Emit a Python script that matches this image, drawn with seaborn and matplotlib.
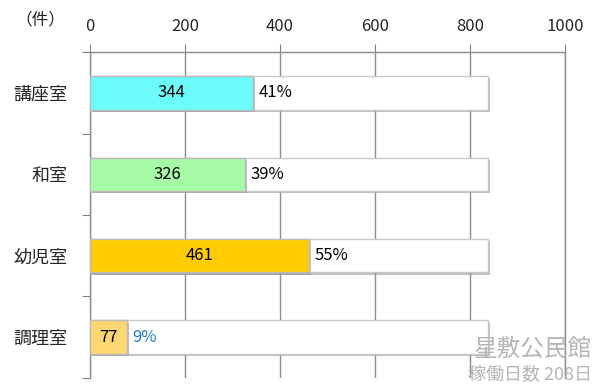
import numpy as np
import pandas as pd
import seaborn as sns
import matplotlib.pyplot as plt
import matplotlib.patheffects as pe

rooms = ['講座室', '和室', '幼児室', '調理室']
counts = [344, 326, 461, 77]
total = 838
percents = ['41%', '39%', '55%', '9%']
colors = ['#6CFBFB', '#A6FBA6', '#FFCC00', '#FFD770']
pct_colors = ['black', 'black', 'black', '#1F7AC8']
x_ticks = [0, 200, 400, 600, 800, 1000]

df = pd.DataFrame({'room': rooms, 'count': counts, 'total': [total] * len(rooms)})

sns.set_style('white')
plt.rcParams['font.family'] = ['Noto Sans CJK JP', 'DejaVu Sans']

fig = plt.figure(figsize=(5.92, 3.86), dpi=100)
ax = fig.add_axes([0.152, 0.021, 0.802, 0.844])

shadow = [pe.SimplePatchShadow(offset=(1.5, -1.5), shadow_rgbFace='#999999', alpha=0.6), pe.Normal()]

# background (total) bars
sns.barplot(data=df, y='room', x='total', orient='h', color='white', width=0.41,
            saturation=1, edgecolor='#C8C8C8', linewidth=1, ax=ax, zorder=3)
# value bars
sns.barplot(data=df, y='room', x='count', orient='h', hue='room', palette=colors,
            saturation=1, legend=False, width=0.41, edgecolor='#BBBBBB', linewidth=1,
            ax=ax, zorder=4)
for p in ax.patches:
    p.set_path_effects(shadow)

for i, (c, pc, col) in enumerate(zip(counts, percents, pct_colors)):
    ax.text(c / 2, i, str(c), ha='center', va='center', fontsize=12, color='black', zorder=6)
    ax.text(c + 12, i, pc, ha='left', va='center', fontsize=12, color=col, zorder=6)

ax.set_xlim(0, 1000)
ax.set_ylim(3.5, -0.5)
ax.set_xticks(x_ticks)
ax.xaxis.tick_top()
ax.tick_params(axis='x', which='both', top=True, length=6, color='#808080', labelsize=12, pad=6)
ax.set_yticks([-0.5, 0.5, 1.5, 2.5, 3.5], minor=False)
ax.set_yticklabels([])
ax.set_yticks(range(len(rooms)), minor=True)
ax.set_yticklabels(rooms, minor=True, fontsize=13)
ax.tick_params(axis='y', which='major', left=True, length=6, color='#808080')
ax.tick_params(axis='y', which='minor', left=False, pad=14)
ax.set_xlabel('')
ax.set_ylabel('')
ax.grid(axis='x', color='#8C8C8C', linewidth=1, zorder=0)
ax.set_axisbelow(True)
ax.spines['bottom'].set_visible(False)
for s in ['top', 'left', 'right']:
    ax.spines[s].set_color('#8C8C8C')
    ax.spines[s].set_linewidth(1)

fig.text(40 / 592, 1 - 20 / 386, '（件）', ha='center', va='center', fontsize=12)
fig.text(592 / 592, 1 - 349 / 386, '星敷公民館', ha='right', va='center', fontsize=17, color='#B5B5B5')
fig.text(592 / 592, 1 - 374 / 386, '稼働日数 208日', ha='right', va='center', fontsize=13, color='#B5B5B5')

fig.savefig('out.png', dpi=100)
